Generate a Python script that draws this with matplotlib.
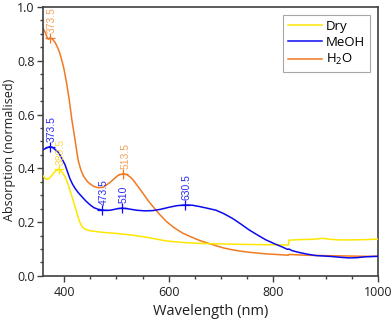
import matplotlib
matplotlib.use("Agg")
import matplotlib.pyplot as plt
from matplotlib.ticker import MultipleLocator

plt.rcParams['font.family'] = ['Open Sans', 'DejaVu Sans']
plt.rcParams['mathtext.fontset'] = 'custom'
plt.rcParams['mathtext.rm'] = 'Open Sans'
plt.rcParams['mathtext.it'] = 'Open Sans'
plt.rcParams['mathtext.default'] = 'regular'

# ---- data ----
h2o_wl = [360, 364, 368, 370, 373.5, 378, 383, 388, 392, 399, 405, 410, 415, 421, 427, 432, 437,
          445, 450, 457, 465, 475, 481, 488, 495, 502, 507, 513.5, 520, 527, 532, 540, 551, 560,
          570, 583, 596, 610, 627, 643, 659, 678, 691, 705, 722, 738, 754, 770, 786, 805, 829,
          830, 850, 880, 913, 945, 976, 1000]
h2o_abs = [0.921, 0.905, 0.885, 0.880, 0.886, 0.880, 0.868, 0.848, 0.828, 0.778, 0.716, 0.654,
           0.580, 0.506, 0.430, 0.395, 0.372, 0.350, 0.342, 0.333, 0.328, 0.330, 0.338, 0.348,
           0.360, 0.372, 0.377, 0.380, 0.377, 0.367, 0.357, 0.336, 0.307, 0.282, 0.258, 0.228,
           0.202, 0.180, 0.159, 0.145, 0.132, 0.120, 0.112, 0.104, 0.097, 0.092, 0.088, 0.085,
           0.082, 0.080, 0.077, 0.080, 0.078, 0.076, 0.075, 0.074, 0.073, 0.073]

meoh_wl = [360, 365, 370, 373.5, 378, 383, 389, 395, 402, 407, 411, 416, 421, 427, 434, 442, 450,
           457, 465, 473.5, 480, 487, 495, 502, 510, 518, 527, 540, 555, 570, 585, 600, 615, 630.5,
           645, 659, 678, 691, 705, 722, 738, 754, 770, 786, 802, 818, 827, 830, 836, 850, 865,
           881, 897, 913, 930, 945, 960, 976, 1000]
meoh_abs = [0.470, 0.474, 0.479, 0.481, 0.478, 0.470, 0.460, 0.440, 0.413, 0.385, 0.363, 0.342,
            0.326, 0.310, 0.295, 0.278, 0.264, 0.254, 0.248, 0.245, 0.244, 0.244, 0.247, 0.250,
            0.252, 0.251, 0.248, 0.244, 0.242, 0.243, 0.248, 0.255, 0.261, 0.264, 0.263, 0.258,
            0.250, 0.244, 0.232, 0.214, 0.193, 0.171, 0.152, 0.134, 0.120, 0.107, 0.099, 0.100,
            0.094, 0.087, 0.081, 0.076, 0.074, 0.072, 0.069, 0.067, 0.068, 0.071, 0.073]

dry_wl = [360, 364, 368, 373, 380, 385, 389.5, 395, 402, 407, 411, 416, 421, 426, 430, 435, 440,
          450, 465, 480, 500, 530, 560, 596, 630, 659, 700, 750, 800, 829, 830, 850, 870, 881,
          894, 910, 926, 950, 975, 1000]
dry_abs = [0.372, 0.362, 0.359, 0.365, 0.382, 0.392, 0.396, 0.390, 0.369, 0.345, 0.320, 0.290,
           0.258, 0.225, 0.200, 0.182, 0.174, 0.168, 0.164, 0.161, 0.158, 0.152, 0.143, 0.130,
           0.124, 0.121, 0.119, 0.117, 0.116, 0.115, 0.133, 0.135, 0.136, 0.137, 0.140, 0.136,
           0.134, 0.134, 0.135, 0.137]

dry_peaks = [389.5]
meoh_peaks = [373.5, 473.5, 510, 630.5]
h2o_peaks = [373.5, 513.5]

series_labels = ['Dry', 'MeOH', 'H$_2$O']

# ---- style ----
c_dry, c_dry_txt = '#FFE600', '#FFD84A'
c_meoh, c_meoh_txt = '#0A0AF0', '#2A2AF5'
c_h2o, c_h2o_txt = '#F07A22', '#F5A05A'

fig = plt.figure(figsize=(3.92, 3.19), dpi=100)
ax = fig.add_axes([0.110, 0.135, 0.854, 0.843])

ax.plot(dry_wl, dry_abs, color=c_dry, lw=1.1, label=series_labels[0], zorder=3)
ax.plot(meoh_wl, meoh_abs, color=c_meoh, lw=1.1, label=series_labels[1], zorder=4)
ax.plot(h2o_wl, h2o_abs, color=c_h2o, lw=1.1, label=series_labels[2], zorder=2)

def mark(wl, ab, peaks, lc, tc):
    for p in peaks:
        y = ab[wl.index(p)]
        ax.plot([p], [y], marker='+', ms=7, mew=0.9, color=lc, zorder=5)
        ax.annotate(f'{p:g}', (p, y), xytext=(1.2, 3.5), textcoords='offset points',
                    rotation=90, ha='center', va='bottom', fontsize=7.5, color=tc,
                    family=['Liberation Sans', 'DejaVu Sans'], annotation_clip=False, zorder=6)

mark(h2o_wl, h2o_abs, h2o_peaks, c_h2o, c_h2o_txt)
mark(meoh_wl, meoh_abs, meoh_peaks, c_meoh, c_meoh_txt)
mark(dry_wl, dry_abs, dry_peaks, c_dry, c_dry_txt)

ax.set_xlim(360, 1000)
ax.set_ylim(0, 1.0)
ax.xaxis.set_major_locator(MultipleLocator(200))
ax.xaxis.set_minor_locator(MultipleLocator(50))
ax.yaxis.set_major_locator(MultipleLocator(0.2))
ax.yaxis.set_minor_locator(MultipleLocator(0.05))
ax.yaxis.set_major_formatter(matplotlib.ticker.FormatStrFormatter('%.1f'))

for s in ax.spines.values():
    s.set_color('#404040')
    s.set_linewidth(1.2)
ax.tick_params(which='both', direction='out', color='#404040', width=1.0,
               top=False, right=False, labelsize=9, labelcolor='#202020')
ax.tick_params(which='major', length=4, pad=3)
ax.tick_params(which='minor', length=2.5)
ax.tick_params(axis='y', which='major', pad=2)

ax.set_xlabel('Wavelength (nm)', fontsize=10.5, color='#202020', labelpad=4)
ax.set_ylabel('Absorption (normalised)', fontsize=9, color='#202020')
ax.yaxis.set_label_coords(-0.08, 0.47)

leg = ax.legend(loc='upper right', fontsize=9.5, frameon=True, fancybox=False,
                edgecolor='#909090', handlelength=2.6, handletextpad=0.3,
                borderaxespad=0.6, labelspacing=0.25, borderpad=0.35)
leg.get_frame().set_linewidth(0.8)

fig.savefig('out.png', dpi=100)
